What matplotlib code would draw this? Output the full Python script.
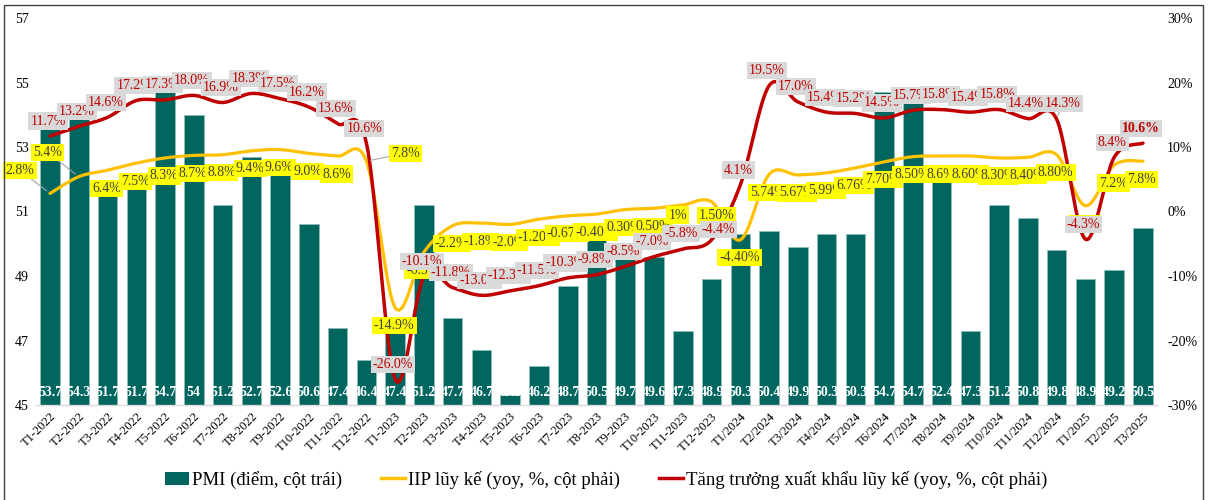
import numpy as np
import matplotlib
matplotlib.use("Agg")
import matplotlib.pyplot as plt
from matplotlib.patches import Patch, Rectangle
from matplotlib.lines import Line2D

plt.rcParams['font.family'] = ['Liberation Serif', 'DejaVu Serif']

# ---- data -----------------------------------------------------------------
months = ([f"T{m}-2022" for m in range(1, 13)] +
          [f"T{m}-2023" for m in range(1, 13)] +
          [f"T{m}/2024" for m in range(1, 13)] +
          [f"T{m}/2025" for m in range(1, 4)])

pmi = [53.7, 54.3, 51.7, 51.7, 54.7, 54.0, 51.2, 52.7, 52.6, 50.6, 47.4, 46.4,
       47.4, 51.2, 47.7, 46.7, 45.3, 46.2, 48.7, 50.5, 49.7, 49.6, 47.3, 48.9,
       50.3, 50.4, 49.9, 50.3, 50.3, 54.7, 54.7, 52.4, 47.3, 51.2, 50.8, 49.8,
       48.9, 49.2, 50.5]

iip = [2.8, 5.4, 6.4, 7.5, 8.3, 8.7, 8.8, 9.4, 9.6, 9.0, 8.6, 7.8,
       -14.9, -6.3, -2.2, -1.8, -2.0, -1.20, -0.67, -0.40, 0.30, 0.50, 1.0, 1.50,
       -4.40, 5.74, 5.67, 5.99, 6.76, 7.70, 8.50, 8.6, 8.60, 8.30, 8.40, 8.80,
       0.9, 7.2, 7.8]
iip_decimals = ([1] * 12 +
                [1, 1, 1, 1, 1, 2, 2, 2, 2, 2, 0, 2] +
                [2, 2, 2, 2, 2, 2, 2, 1, 2, 2, 2, 2] +
                [1, 1, 1])

export = [11.7, 13.2, 14.6, 17.2, 17.3, 18.0, 16.9, 18.3, 17.5, 16.2, 13.6, 10.6,
          -26.0, -10.1, -11.8, -13.0, -12.3, -11.5, -10.3, -9.8, -8.5, -7.0, -5.8, -4.4,
          4.1, 19.5, 17.0, 15.4, 15.2, 14.5, 15.7, 15.8, 15.4, 15.8, 14.4, 14.3,
          -4.3, 8.4, 10.6]

left_ticks = [45, 47, 49, 51, 53, 55, 57]
right_ticks = [-30, -20, -10, 0, 10, 20, 30]

legend_labels = ["PMI (điểm, cột trái)",
                 "IIP lũy kế (yoy, %, cột phải)",
                 "Tăng trưởng xuất khẩu lũy kế (yoy, %, cột phải)"]

# ---- styling --------------------------------------------------------------
BAR = '#00665f'
YEL = '#ffc000'
RED = '#c00000'
YEL_TXT = '#3f3f3f'

# label placement (pixel offsets from the point); defaults plus a few moved ones
red_default = (-2, 15)
red_moved = {23: (7, 10), 35: (6, 16)}
red_leader = {35}
yel_default = (-1, -18)
yel_moved = {0: (-30, 23), 1: (-31, 24), 11: (39, 8), 22: (-5, -10), 23: (5, -14)}
yel_leader = {0, 1, 11}


def smooth(vals, n=24):
    """Cubic Bezier smoothing through every point (Catmull-Rom control points)."""
    pts = np.column_stack([np.arange(len(vals)), np.asarray(vals, float)])
    ext = np.vstack([pts[0], pts, pts[-1]])
    t = np.linspace(0, 1, n)[:, None]
    segs = []
    for i in range(len(pts) - 1):
        p0, p1, p2, p3 = ext[i], ext[i + 1], ext[i + 2], ext[i + 3]
        c1 = p1 + (p2 - p0) / 6.0
        c2 = p2 - (p3 - p1) / 6.0
        seg = ((1 - t) ** 3 * p1 + 3 * (1 - t) ** 2 * t * c1
               + 3 * (1 - t) * t ** 2 * c2 + t ** 3 * p2)
        segs.append(seg if i == 0 else seg[1:])
    return np.vstack(segs)


fig = plt.figure(figsize=(12.12, 5.0), dpi=100)
ax = fig.add_axes([0.0294, 0.19, 0.9255, 0.774])
ax2 = ax.twinx()

x = np.arange(len(months))

# bars (left axis)
ax.bar(x, np.array(pmi) - 45, bottom=45, width=0.68, color=BAR,
       edgecolor='#8fbdb9', linewidth=0.6, zorder=2)
for i, v in enumerate(pmi):
    ax.annotate(f"{v:g}", xy=(i, 45), xytext=(0, 12), textcoords='offset pixels',
                ha='center', va='center', color='white', fontsize=10,
                fontweight='bold', zorder=3)

ax.set_xlim(-0.5, len(months) - 0.5)
ax.set_ylim(45, 57)
ax.set_yticks(left_ticks)
ax.set_xticks(x)
ax.set_xticklabels(months, rotation=45, ha='right', rotation_mode='anchor',
                   fontsize=9)
ax.tick_params(axis='x', length=0, pad=4)
ax.tick_params(axis='y', length=0, pad=5, labelsize=10)
for s in ('left', 'right', 'top'):
    ax.spines[s].set_visible(False)
ax.spines['bottom'].set_color('#d9d9d9')
ax.spines['bottom'].set_linewidth(1.0)

# lines (right axis)
ax2.set_ylim(-30, 30)
ax2.set_yticks(right_ticks)
ax2.set_yticklabels([f"{t}%" for t in right_ticks])
ax2.tick_params(axis='y', length=0, pad=7, labelsize=10)
for s in ax2.spines.values():
    s.set_visible(False)

yc = smooth(iip)
ax2.plot(yc[:, 0], yc[:, 1], color=YEL, lw=2.3, solid_capstyle='round', zorder=3)
rc = smooth(export)
ax2.plot(rc[:, 0], rc[:, 1], color=RED, lw=2.5, solid_capstyle='round', zorder=4)

# data labels: IIP (yellow boxes)
for i, (v, d) in enumerate(zip(iip, iip_decimals)):
    dx, dy = yel_moved.get(i, yel_default)
    kw = {}
    if i in yel_leader:
        kw['arrowprops'] = dict(arrowstyle='-', color='#a6a6a6', lw=0.8,
                                shrinkA=0, shrinkB=3)
    ax2.annotate(f"{v:.{d}f}%", xy=(i, v), xytext=(dx, dy),
                 textcoords='offset pixels', ha='center', va='center',
                 fontsize=10, color=YEL_TXT, zorder=5 + i * 0.001,
                 bbox=dict(boxstyle='square,pad=0.15', fc='#ffff00', ec='none'),
                 **kw)

# data labels: exports (grey boxes)
for i, v in enumerate(export):
    dx, dy = red_moved.get(i, red_default)
    kw = {}
    if i in red_leader:
        kw['arrowprops'] = dict(arrowstyle='-', color='#a6a6a6', lw=0.8,
                                shrinkA=0, shrinkB=3)
    last = i == len(export) - 1
    ax2.annotate(f"{v:.1f}%", xy=(i, v), xytext=(dx, dy),
                 textcoords='offset pixels', ha='center', va='center',
                 fontsize=10, color=RED, fontweight='bold' if last else 'normal',
                 zorder=6 + i * 0.001,
                 bbox=dict(boxstyle='square,pad=0.15', fc='#d9d9d9', ec='none'),
                 **kw)

# legend
handles = [Patch(facecolor=BAR, edgecolor='none'),
           Line2D([], [], color=YEL, lw=2.5),
           Line2D([], [], color=RED, lw=2.5)]
fig.legend(handles, legend_labels, loc='center', bbox_to_anchor=(0.5, 0.04),
           ncol=3, frameon=False, fontsize=13.5, handlelength=1.3,
           handletextpad=0.12, columnspacing=2.1)

# outer frame
fig.add_artist(Rectangle((4 / 1212, -0.01), (1203 - 4) / 1212, 1 - 5 / 500 + 0.01,
                         transform=fig.transFigure, fill=False,
                         edgecolor='#404040', linewidth=1.0))

fig.savefig("out.png", dpi=100)
